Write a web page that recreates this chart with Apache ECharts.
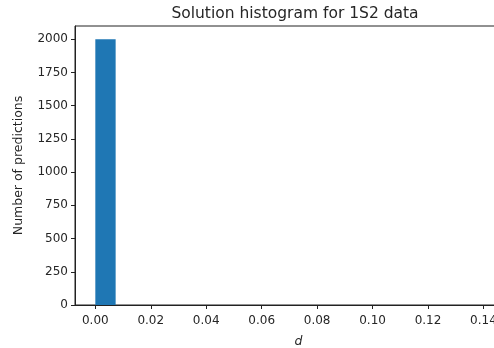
<!DOCTYPE html>
<html>
<head>
<meta charset="utf-8">
<script src="https://cdn.jsdelivr.net/npm/echarts@6/dist/echarts.min.js"></script>
<style>
  html, body { margin: 0; padding: 0; background: #fff; overflow: hidden; }
  /* plot area runs past the right edge, like the cropped original */
  #chart { width: 530px; height: 348px; }
</style>
</head>
<body>
<div id="chart"></div>
<script>
// histogram bins: 20 bins of equal width starting at 0
var binWidth = 0.00733;
var binCounts = [2000, 0, 0, 0, 0, 0, 0, 0, 0, 0, 0, 0, 0, 0, 0, 0, 0, 0, 0, 0];
var xTicks = [0, 0.02, 0.04, 0.06, 0.08, 0.10, 0.12, 0.14];
var yTicks = [0, 250, 500, 750, 1000, 1250, 1500, 1750, 2000];

var chartObj = echarts.init(document.getElementById('chart'));

var binData = [];
for (var i = 0; i < binCounts.length; i++) {
	binData.push([i * binWidth, (i + 1) * binWidth, binCounts[i]]);
}

var txt = '#262626';
var font = 'DejaVu Sans';

var option = {
	animation: false,
	title: {
		text: 'Solution histogram for 1S2 data',
		left: 290,
		textAlign: 'center',
		top: 1,
		textStyle: { fontFamily: font, fontSize: 15.5, fontWeight: 'normal', color: txt }
	},
	grid: {
		left: 75, top: 26, right: 8, bottom: 43,
		outerBoundsMode: 'none',
		show: true, borderColor: '#222', borderWidth: 1
	},
	xAxis: {
		type: 'value',
		min: -0.00733,
		max: 0.1539,
		name: 'd',
		nameLocation: 'middle',
		nameGap: 30,
		nameTextStyle: { fontFamily: font, fontSize: 12.5, fontStyle: 'italic', color: txt },
		splitLine: { show: false },
		axisLine: { lineStyle: { color: '#222' } },
		axisTick: { customValues: xTicks, length: 4, lineStyle: { color: '#222' } },
		axisLabel: {
			customValues: xTicks,
			fontFamily: font, fontSize: 12, color: txt, margin: 10,
			formatter: function (v) { return v.toFixed(2); }
		}
	},
	yAxis: {
		type: 'value',
		min: 0,
		max: 2100,
		name: 'Number of predictions',
		nameLocation: 'middle',
		nameGap: 50,
		nameTextStyle: { fontFamily: font, fontSize: 12.5, color: txt },
		splitLine: { show: false },
		axisLine: { show: true, onZero: false, lineStyle: { color: '#222' } },
		axisTick: { show: true, customValues: yTicks, length: 4, lineStyle: { color: '#222' } },
		axisLabel: {
			customValues: yTicks, fontFamily: font, fontSize: 12, color: txt, margin: 7,
			formatter: function (v) { return String(v); }
		}
	},
	series: [
		{
			type: 'custom',
			data: binData,
			encode: { x: [0, 1], y: 2 },
			renderItem: function (params, api) {
				var p0 = api.coord([api.value(0), 0]);
				var p1 = api.coord([api.value(1), api.value(2)]);
				return {
					type: 'rect',
					shape: { x: p0[0], y: p1[1], width: p1[0] - p0[0], height: p0[1] - p1[1] },
					style: { fill: '#1f77b4' }
				};
			}
		}
	]
};

chartObj.setOption(option);
</script>
</body>
</html>
